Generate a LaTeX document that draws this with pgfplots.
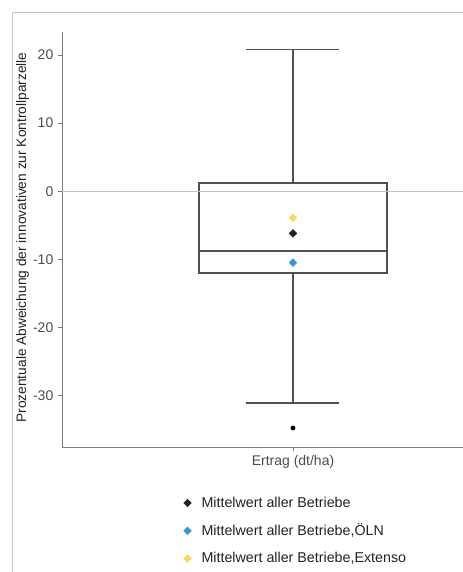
\documentclass[border=0pt]{standalone}
\usepackage{pgfplots}
\pgfplotsset{compat=1.18}
\usepgfplotslibrary{statistics}
\usepackage{fontspec}
\setmainfont{Liberation Sans}
\definecolor{boxcol}{HTML}{505050}
\definecolor{spinecol}{HTML}{7A7A7A}
\definecolor{ticklab}{HTML}{4D4D4D}
\definecolor{meanblack}{HTML}{222222}
\definecolor{meanblue}{HTML}{3399CC}
\definecolor{meanyellow}{HTML}{FCD55F}
\definecolor{framecol}{HTML}{C4C4C4}
\definecolor{zerocol}{HTML}{C0C0C0}
\begin{document}
\begin{tikzpicture}
\useasboundingbox (0,0) rectangle (347.25pt,-429pt);
\draw[framecol, line width=0.9pt] (9.4pt,-440pt) -- (9.4pt,-9.4pt) -- (360pt,-9.4pt);
\begin{axis}[
  at={(46.5pt,-335.25pt)}, anchor=south west,
  scale only axis, width=300.75pt, height=311.25pt,
  xmin=0.4, xmax=1.4416, ymin=-37.6, ymax=23.4,
  axis lines=left,
  axis line style={-, draw=spinecol, line width=0.6pt},
  tick style={draw=spinecol, line width=0.6pt},
  tick align=outside, major tick length=3pt,
  xtick={1}, xticklabels={Ertrag (dt/ha)},
  ytick={-30,-20,-10,0,10,20},
  /pgf/number format/assume math mode=true,
  ticklabel style={font=\fontsize{10.5}{12}\selectfont, text=ticklab},
  ylabel={Prozentuale Abweichung der innovativen zur Kontrollparzelle},
  ylabel style={font=\fontsize{10.3}{12}\selectfont, text=meanblack, at={(axis description cs:-0.0985,0.505)}, anchor=center, rotate=0},
  legend style={draw=none, fill=none, font=\fontsize{10.7}{12.8}\selectfont, text=meanblack,
    at={(axis description cs:0.303,-0.113)}, anchor=north west, row sep=7pt, inner sep=0pt},
  legend cell align=left,
  legend image code/.code={\path[draw=none, fill=none] (0pt,0pt) -- (11pt,0pt); \draw[#1] plot coordinates {(2.5pt,0pt)};},
  boxplot/draw direction=y,
  clip=false,
]
\addplot[boxplot prepared={draw position=1, median=-8.8, upper quartile=1.2, lower quartile=-12.0,
   upper whisker=20.8, lower whisker=-31.1, box extend=0.488, whisker extend=0.2416},
   draw=boxcol, line width=1.1pt, fill=white, mark=*, mark size=1.6pt,
   mark options={fill=black, draw=black, line width=0.4pt}, forget plot]
   table[row sep=\\, y index=0] {data\\ -34.8\\};
\addplot[zerocol, line width=0.8pt, forget plot] coordinates {(0.4,0) (1.4416,0)};
\addplot[only marks, mark=square*, mark size=2pt, mark options={rotate=45}, color=meanblack] coordinates {(1,-6.2)};
\addlegendentry{Mittelwert aller Betriebe}
\addplot[only marks, mark=square*, mark size=2pt, mark options={rotate=45}, color=meanblue] coordinates {(1,-10.5)};
\addlegendentry{Mittelwert aller Betriebe,ÖLN}
\addplot[only marks, mark=square*, mark size=2pt, mark options={rotate=45}, color=meanyellow] coordinates {(1,-3.9)};
\addlegendentry{Mittelwert aller Betriebe,Extenso}
\end{axis}
\end{tikzpicture}
\end{document}
